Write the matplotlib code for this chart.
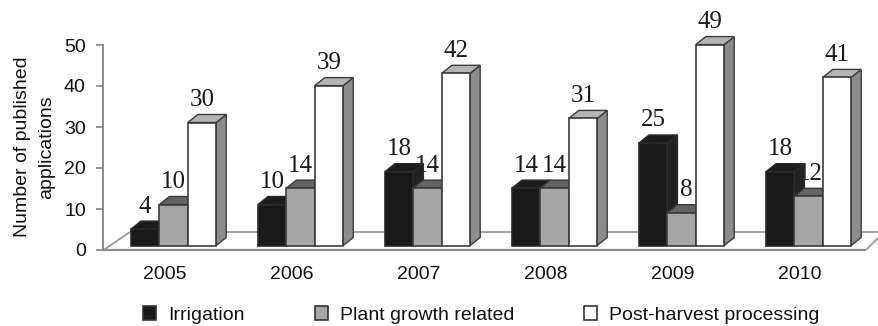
import matplotlib
matplotlib.use("Agg")
import matplotlib.pyplot as plt
from matplotlib.patches import Patch, Polygon

years = ["2005", "2006", "2007", "2008", "2009", "2010"]
irrigation = [4, 10, 18, 14, 25, 18]
plant_growth = [10, 14, 14, 14, 8, 12]
post_harvest = [30, 39, 42, 31, 49, 41]
series_names = ["Irrigation", "Plant growth related", "Post-harvest processing"]

W, H = 879, 326
AX_L, AX_R, AX_B, AX_T = 103.5, 879, 250, 45
GROUP_PX = 127.0
GROUP0_PX = 173.6
BAR_PX = 28.4
DEPTH_X, DEPTH_Y = 10.0, 8.0
BASE_PX = 4.5
BACK_PX = 18.0
FLOOR_R = 866
# labels nudged sideways in the reference: (group, series) -> pixels
LABEL_NUDGE = {(4, 1): 5, (5, 1): 2}

front = ["#191919", "#a6a6a6", "#ffffff"]
top = ["#1c1c1c", "#636363", "#b4b4b4"]
side = ["#222222", "#6e6e6e", "#8c8c8c"]
edge = ["#2a2a2a", "#3c3c3c", "#3c3c3c"]

plt.rcParams["font.family"] = "Liberation Sans"
fig = plt.figure(figsize=(W / 100, H / 100), dpi=100)
ax = fig.add_axes([AX_L / W, 1 - AX_B / H, (AX_R - AX_L) / W, (AX_B - AX_T) / H])
ax.set_xlim((AX_L - GROUP0_PX) / GROUP_PX, (AX_R - GROUP0_PX) / GROUP_PX)
ax.set_ylim(0, 50)
ppx = 1 / GROUP_PX
ppy = 50 / (AX_B - AX_T)
base = BASE_PX * ppy
dx, dy = DEPTH_X * ppx, DEPTH_Y * ppy
bw = BAR_PX * ppx

for s in ("top", "right", "bottom"):
    ax.spines[s].set_visible(False)
ax.spines["left"].set_color("#858585")
ax.spines["left"].set_linewidth(1.3)

# floor
x0, x1 = ax.get_xlim()
xr = (FLOOR_R - GROUP0_PX) * ppx
back = BACK_PX * ppy
floor_col = "#9a9a9a"
ax.plot([x0, xr], [0, 0], color="#8a8a8a", lw=1.6, clip_on=False, zorder=1, solid_capstyle="butt")
ax.plot([x0, x0 + 26.5 * ppx, x1], [0, back, back], color=floor_col, lw=1.3, zorder=1)
ax.plot([xr, xr + 18 * ppx], [0, back], color=floor_col, lw=1.3, zorder=1, clip_on=True)

# value labels go beneath the bars, as in the reference
series = [irrigation, plant_growth, post_harvest]
z = 3
for i in range(len(years)):
    for j, vals in enumerate(series):
        v = vals[i]
        left = i + (j - 1.5) * bw
        h = v + base
        ax.annotate(str(v), (left + bw / 2, h), xytext=(LABEL_NUDGE.get((i, j), 0), 22.5),
                    textcoords="offset pixels",
                    ha="center", va="center", family="Liberation Serif", fontsize=18,
                    color="#1a1a1a", zorder=2, annotation_clip=False)
        ax.add_patch(Polygon([(left + bw, base), (left + bw + dx, base + dy), (left + bw + dx, h + dy), (left + bw, h)],
                             fc=side[j], ec=edge[j], lw=1.0, zorder=z, clip_on=False))
        ax.add_patch(Polygon([(left, h), (left + dx, h + dy), (left + bw + dx, h + dy), (left + bw, h)],
                             fc=top[j], ec=edge[j], lw=1.0, zorder=z, clip_on=False))
        ax.bar(left, v, bw, bottom=base, align="edge", color=front[j], edgecolor=edge[j],
               linewidth=1.2, zorder=z + 0.5, clip_on=False)
        z += 1

ax.set_yticks(range(0, 51, 10))
ax.tick_params(axis="y", length=4.7, width=1.2, color="#858585", labelsize=14, pad=8, labelcolor="#111111")
ax.set_xticks([i - 8.6 * ppx for i in range(len(years))])
ax.set_xticklabels(years)
ax.tick_params(axis="x", length=0, labelsize=14, pad=11.7, labelcolor="#111111")

fig.text(34.5 / W, 1 - 147 / H, "Number of published\napplications", rotation=90, ha="center", va="center",
         fontsize=14, color="#111111", linespacing=1.5)

handles = [Patch(fc=front[k], ec="#333333", lw=1.2) for k in range(3)]
fig.legend(handles, series_names, ncol=3, frameon=False, fontsize=14,
           loc="center left", bbox_to_anchor=(143 / W, 1 - 315 / H), borderaxespad=0, borderpad=0,
           handlelength=0.67, handleheight=0.67, handletextpad=0.62, columnspacing=3.6, labelcolor="#111111")

fig.savefig("out.png", dpi=100)
